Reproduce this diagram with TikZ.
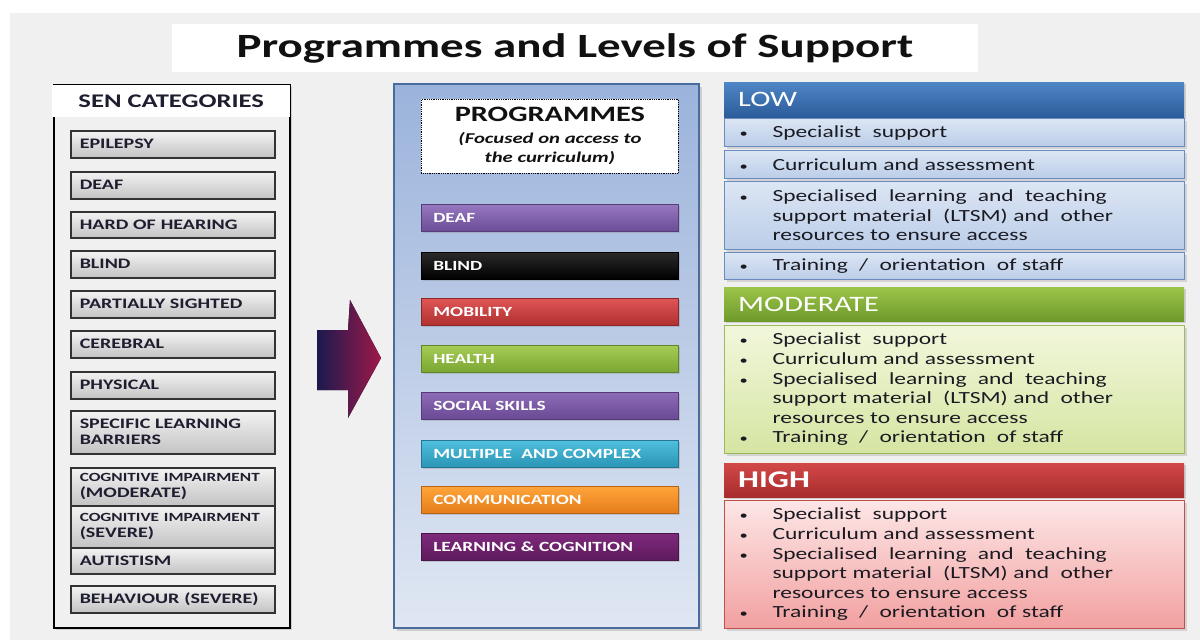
\documentclass[tikz,border=0pt]{standalone}
\usepackage{fontspec}
\setmainfont{Carlito}[FakeStretch=1.38]
\usetikzlibrary{shadows}
\definecolor{bg}{HTML}{F0F0F0}
\definecolor{titleC}{HTML}{111111}
\definecolor{catT}{HTML}{1E1E30}
\definecolor{catTop}{HTML}{F3F3F3}
\definecolor{catBot}{HTML}{C3C3C3}
\definecolor{catB}{HTML}{333333}
\definecolor{midT}{HTML}{9BB3DB}
\definecolor{midBot}{HTML}{E0E7F3}
\definecolor{midB}{HTML}{4A6C9C}
\definecolor{arrL}{HTML}{1A1A4E}
\definecolor{arrR}{HTML}{A0184A}
\definecolor{lowHT}{HTML}{4F86C6}
\definecolor{lowHB}{HTML}{2C5C9A}
\definecolor{modHT}{HTML}{9BC44A}
\definecolor{modHB}{HTML}{6E9A2A}
\definecolor{higHT}{HTML}{D24848}
\definecolor{higHB}{HTML}{A82C2C}
\definecolor{lowRT}{HTML}{DCE6F4}
\definecolor{lowRB}{HTML}{BBCDE8}
\definecolor{lowRD}{HTML}{6A8CC0}
\definecolor{modRT}{HTML}{F2F7DC}
\definecolor{modRB}{HTML}{D5E5A2}
\definecolor{modRD}{HTML}{9BBB59}
\definecolor{higRT}{HTML}{FDE6E6}
\definecolor{higRB}{HTML}{F2A0A0}
\definecolor{higRD}{HTML}{C0504D}
\definecolor{txt}{HTML}{1A1A22}
\definecolor{deafT}{HTML}{9677C0}\definecolor{deafB}{HTML}{6B4C96}
\definecolor{blindT}{HTML}{2A2A2A}\definecolor{blindB}{HTML}{000000}
\definecolor{mobT}{HTML}{E05555}\definecolor{mobB}{HTML}{B03030}
\definecolor{heaT}{HTML}{A5CC55}\definecolor{heaB}{HTML}{7AA632}
\definecolor{socT}{HTML}{8E6BB8}\definecolor{socB}{HTML}{6A4A94}
\definecolor{mulT}{HTML}{4FC0DE}\definecolor{mulB}{HTML}{2A94B5}
\definecolor{comT}{HTML}{FFA53A}\definecolor{comB}{HTML}{E57C1A}
\definecolor{leaT}{HTML}{7E2A7C}\definecolor{leaB}{HTML}{5E1A5C}
\newcommand\fs[2]{\fontsize{#1}{#2}\selectfont}
\newcommand\bul{\makebox[33pt][l]{{\fontsize{12}{12}\selectfont\textbullet}}}
\newcommand\ind{\hspace*{33pt}}
\begin{document}
\begin{tikzpicture}[x=1pt,y=-1pt,
  catbox/.style={draw=catB, line width=1.5pt, top color=catTop, bottom color=catBot,
    anchor=north west, inner xsep=9pt, inner ysep=1pt, text width=186pt, align=left,
    font=\fs{14.5}{16}\bfseries, text=catT,
    drop shadow={shadow xshift=1.5pt, shadow yshift=-1.5pt, opacity=0.25}},
  progbar/.style 2 args={top color=#1, bottom color=#2, draw=#2!80!black, line width=0.6pt,
    anchor=north west, minimum height=27pt, inner xsep=12pt, text width=233pt, align=left,
    font=\fs{14}{16}\bfseries, text=white,
    drop shadow={shadow xshift=2pt, shadow yshift=-2pt, opacity=0.3}},
  lvlhead/.style 2 args={top color=#1, bottom color=#2, anchor=north west,
    minimum width=460pt, inner xsep=14pt, text width=432pt, align=left, text=white,
    drop shadow={shadow xshift=2pt, shadow yshift=-2pt, opacity=0.3}},
  lvlbody/.style n args={3}{top color=#1, bottom color=#2, draw=#3, line width=1pt,
    anchor=north west, inner xsep=15pt, inner ysep=2pt, text width=430pt, align=left,
    font=\fs{17}{19.6}, text=txt,
    drop shadow={shadow xshift=2pt, shadow yshift=-2pt, opacity=0.25}},
  lowrow/.style={lvlbody={lowRT}{lowRB}{lowRD}}
]
\useasboundingbox (0,0) rectangle (1200,640);
\fill[white] (0,0) rectangle (1200,640);
\fill[bg] (10,13) rectangle (1200,640);

% title
\node[fill=white, minimum width=806pt, minimum height=48pt, inner sep=0pt,
  font=\fs{34}{38}\bfseries, text=titleC] (title) at (575,48) {Programmes and Levels of Support};

% left panel
\node[draw=black, line width=2pt, fill=bg, anchor=north west, minimum width=236pt,
  minimum height=543pt, drop shadow={shadow xshift=2pt, shadow yshift=-2pt, opacity=0.3}]
  (senpanel) at (53,84) {};
\node[fill=white, anchor=north west, minimum width=238pt, minimum height=32pt,
  font=\fs{19.3}{22}\bfseries, text=catT] (senhead) at (52,85) {SEN CATEGORIES};

\node[catbox, minimum height=27pt] (c1) at (70,130) {EPILEPSY};
\node[catbox, minimum height=27pt] (c2) at (70,171) {DEAF};
\node[catbox, minimum height=26pt] (c3) at (70,211) {HARD OF HEARING};
\node[catbox, minimum height=27pt] (c4) at (70,250) {BLIND};
\node[catbox, minimum height=27pt] (c5) at (70,290) {PARTIALLY SIGHTED};
\node[catbox, minimum height=27pt] (c6) at (70,330) {CEREBRAL};
\node[catbox, minimum height=27pt] (c7) at (70,371) {PHYSICAL};
\node[catbox, minimum height=43pt] (c8) at (70,410) {SPECIFIC LEARNING\\BARRIERS};
\node[catbox, minimum height=38pt] (c9) at (70,467) {\fs{12.5}{14}\bfseries COGNITIVE IMPAIRMENT\\\fs{14.5}{16}\bfseries (MODERATE)};
\node[catbox, minimum height=42pt] (c10) at (70,505) {\fs{12.5}{14}\bfseries COGNITIVE IMPAIRMENT\\\fs{14.5}{16}\bfseries (SEVERE)};
\node[catbox, minimum height=26pt] (c11) at (70,547) {AUTISTISM};
\node[catbox, minimum height=27pt] (c12) at (70,585) {\mbox{BEHAVIOUR (SEVERE)}};

% block arrow
\fill[left color=arrL, right color=arrR]
  (317,330) -- (348,330) -- (350,300) -- (381,358) -- (348,418) -- (348,390) -- (317,390) -- cycle;

% middle panel
\node[draw=midB, line width=1.5pt, top color=midT, bottom color=midBot, anchor=north west,
  minimum width=305pt, minimum height=544pt,
  drop shadow={shadow xshift=3pt, shadow yshift=-3pt, opacity=0.3}] (progpanel) at (393,83) {};
\node[draw=black, densely dotted, line width=0.8pt, fill=white, anchor=north west,
  minimum width=257pt, minimum height=74pt, align=center, inner sep=2pt, text=titleC,
  font=\fs{15}{19}] (proghead) at (421,99)
  {\fs{22}{24}\bfseries PROGRAMMES\\[3pt]\fs{15}{19}\bfseries\itshape (Focused on access to\\ \fs{15}{19}\bfseries\itshape the curriculum)};

\node[progbar={deafT}{deafB}] (p1) at (421,204) {DEAF};
\node[progbar={blindT}{blindB}] (p2) at (421,252) {BLIND};
\node[progbar={mobT}{mobB}] (p3) at (421,298) {MOBILITY};
\node[progbar={heaT}{heaB}] (p4) at (421,345) {HEALTH};
\node[progbar={socT}{socB}] (p5) at (421,392) {SOCIAL SKILLS};
\node[progbar={mulT}{mulB}] (p6) at (421,440) {MULTIPLE\ \ AND COMPLEX};
\node[progbar={comT}{comB}] (p7) at (421,486) {COMMUNICATION};
\node[progbar={leaT}{leaB}] (p8) at (421,533) {LEARNING \& COGNITION};

% LOW
\node[lvlhead={lowHT}{lowHB}, minimum height=35pt, font=\fs{22}{24}] (lowh) at (724,82) {LOW};
\node[lowrow, minimum height=28pt] (l1) at (724,118) {\bul Specialist\ \ support};
\node[lowrow, minimum height=28pt] (l2) at (724,150) {\bul Curriculum and assessment};
\node[lowrow, minimum height=68pt] (l3) at (724,181)
  {\bul Specialised\ \ learning\ \ and\ \ teaching\\ \ind support material\ \ (LTSM) and\ \ other\\ \ind resources to ensure access};
\node[lowrow, minimum height=27pt] (l4) at (724,252) {\bul Training\ \ /\ \ orientation\ \ of staff};

% MODERATE
\node[lvlhead={modHT}{modHB}, minimum height=34pt, font=\fs{22}{24}] (modh) at (724,287) {MODERATE};
\node[lvlbody={modRT}{modRB}{modRD}, minimum height=128pt] (modb) at (724,325)
  {\bul Specialist\ \ support\\ \bul Curriculum and assessment\\ \bul Specialised\ \ learning\ \ and\ \ teaching\\ \ind support material\ \ (LTSM) and\ \ other\\ \ind resources to ensure access\\ \bul Training\ \ /\ \ orientation\ \ of staff};

% HIGH
\node[lvlhead={higHT}{higHB}, minimum height=34pt, font=\fs{24}{26}\bfseries] (higth) at (724,463) {HIGH};
\node[lvlbody={higRT}{higRB}{higRD}, minimum height=128pt] (higb) at (724,500)
  {\bul Specialist\ \ support\\ \bul Curriculum and assessment\\ \bul Specialised\ \ learning\ \ and\ \ teaching\\ \ind support material\ \ (LTSM) and\ \ other\\ \ind resources to ensure access\\ \bul Training\ \ /\ \ orientation\ \ of staff};
\end{tikzpicture}
\end{document}
